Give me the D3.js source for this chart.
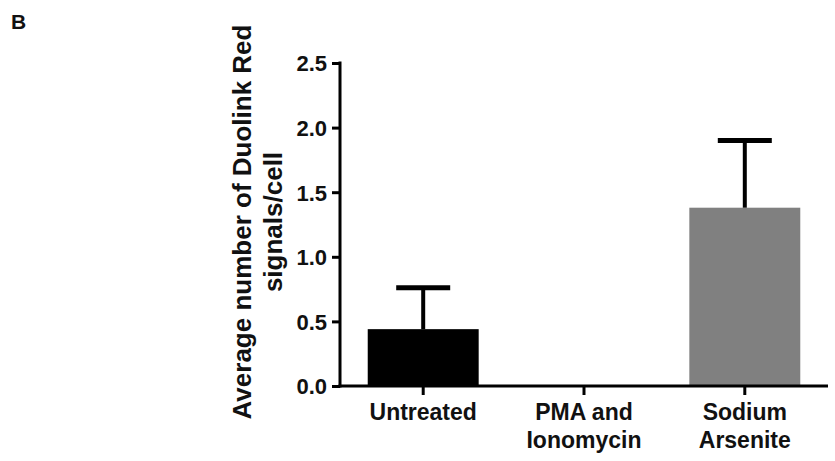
<!DOCTYPE html>
<html>
<head>
<meta charset="utf-8">
<script src="https://cdn.jsdelivr.net/npm/d3@7"></script>
<style>
  body { margin: 0; background: #fff; }
  text { font-family: "Liberation Sans", Arial, sans-serif; font-weight: bold; fill: #111; }
</style>
</head>
<body>
<div id="chart"></div>
<script>
// bar chart values
const categories = ["Untreated", "PMA and\nIonomycin", "Sodium\nArsenite"];
const means = [0.44, 0, 1.38];
const errors = [0.32, 0, 0.52];
const barColors = ["#000000", "#000000", "#808080"];
const yTicks = [0, 0.5, 1.0, 1.5, 2.0, 2.5];

const W = 835, H = 461;
const axisX = 340, axisY = 386, topY = 63, rightX = 828;

const svg = d3.select("#chart").append("svg")
    .attr("width", W)
    .attr("height", H);

const x = d3.scaleBand()
    .domain(categories)
    .range([342, 826])
    .paddingInner(0.31)
    .paddingOuter(0.16);

const y = d3.scaleLinear()
    .domain([0, 2.5])
    .range([axisY, topY]);

// panel letter
svg.append("text")
    .attr("x", 11)
    .attr("y", 29)
    .style("font-size", "21px")
    .text("B");

// bars
svg.selectAll("rect.bar")
    .data(categories)
    .enter().append("rect")
    .attr("class", "bar")
    .attr("x", d => x(d))
    .attr("width", x.bandwidth())
    .attr("y", (d, i) => y(means[i]))
    .attr("height", (d, i) => axisY - y(means[i]))
    .attr("fill", (d, i) => barColors[i]);

// error bars (upper only)
const capW = 54;
categories.forEach((c, i) => {
    if (errors[i] === 0) return;
    const cx = x(c) + x.bandwidth() / 2;
    svg.append("line")
        .attr("x1", cx).attr("x2", cx)
        .attr("y1", y(means[i]))
        .attr("y2", y(means[i] + errors[i]))
        .attr("stroke", "#000")
        .attr("stroke-width", 4);
    svg.append("line")
        .attr("x1", cx - capW / 2).attr("x2", cx + capW / 2)
        .attr("y1", y(means[i] + errors[i]))
        .attr("y2", y(means[i] + errors[i]))
        .attr("stroke", "#000")
        .attr("stroke-width", 5);
});

// y axis
const yAxis = d3.axisLeft(y)
    .tickValues(yTicks)
    .tickFormat(d3.format(".1f"))
    .tickSizeInner(8)
    .tickSizeOuter(0)
    .tickPadding(5);

const gy = svg.append("g")
    .attr("transform", `translate(${axisX},0)`)
    .call(yAxis);
gy.select(".domain").remove();
gy.selectAll(".tick line").attr("stroke", "#000").attr("stroke-width", 3);
gy.selectAll(".tick text").style("font-size", "22px").attr("dy", "0.36em");

svg.append("line")
    .attr("x1", axisX).attr("x2", axisX)
    .attr("y1", topY - 1.5).attr("y2", axisY + 1.5)
    .attr("stroke", "#000").attr("stroke-width", 3);

// x axis
const xAxis = d3.axisBottom(x)
    .tickSizeInner(9)
    .tickSizeOuter(0)
    .tickFormat("");

const gx = svg.append("g")
    .attr("transform", `translate(0,${axisY})`)
    .call(xAxis);
gx.select(".domain").remove();
gx.selectAll(".tick line").attr("stroke", "#000").attr("stroke-width", 3);

svg.append("line")
    .attr("x1", axisX - 1.5).attr("x2", rightX)
    .attr("y1", axisY).attr("y2", axisY)
    .attr("stroke", "#000").attr("stroke-width", 3);

// category labels, split across lines
categories.forEach(c => {
    const t = svg.append("text")
        .attr("text-anchor", "middle")
        .style("font-size", "23px");
    c.split("\n").forEach((line, k) => {
        t.append("tspan")
            .attr("x", x(c) + x.bandwidth() / 2)
            .attr("y", 420 + k * 28)
            .text(line);
    });
});

// y axis title
const yTitle = svg.append("text")
    .attr("text-anchor", "middle")
    .attr("transform", "translate(251,222) rotate(-90)")
    .style("font-size", "26px");
yTitle.append("tspan").attr("x", 0).attr("y", 0).text("Average number of Duolink Red");
yTitle.append("tspan").attr("x", 0).attr("y", 31).text("signals/cell");
</script>
</body>
</html>
